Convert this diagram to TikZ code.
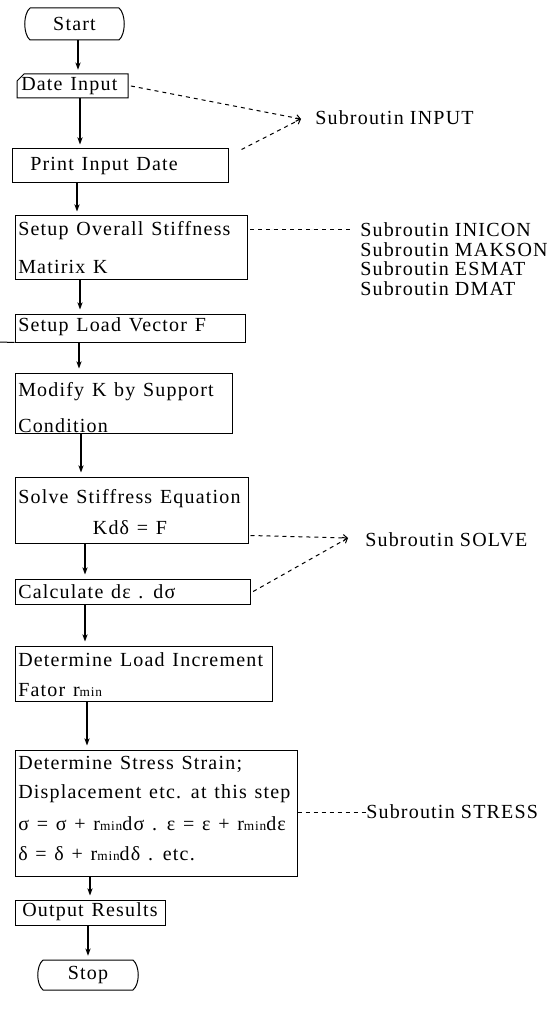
\documentclass[tikz,border=0pt]{standalone}
\usepackage{fontspec}
\setmainfont{Liberation Serif}[LetterSpace=6]
\newfontfamily\boxfont{Liberation Serif}[LetterSpace=6,WordSpace=1.25]
\usetikzlibrary{arrows.meta,fit}
\newcommand\rmn{r{\fontsize{10}{10}\selectfont min}}
\begin{document}
\begin{tikzpicture}[x=0.75pt,y=-0.75pt,
  box/.style={draw, line width=0.75pt, inner sep=0pt},
  hid/.style={inner sep=0pt},
  txt/.style={inner sep=0pt, anchor=west, font=\boxfont\fontsize{15}{18}\selectfont},
  ctxt/.style={inner sep=0pt, font=\boxfont\fontsize{15}{18}\selectfont},
  lab/.style={inner sep=0pt, anchor=west, font=\fontsize{15}{18}\selectfont},
  arr/.style={line width=0.8pt, -{Stealth[length=5.5pt,width=4pt]}, shorten >=3pt},
  dsh/.style={line width=0.75pt, dash pattern=on 3pt off 3pt},
  barb/.style={-{Straight Barb[length=3pt,width=5pt]}}]
\useasboundingbox (0,0) rectangle (558,1012);

% columns for the flow arrows
\coordinate (x1) at (78,0);
\coordinate (x2) at (80,0);
\coordinate (x3) at (77,0);
\coordinate (x4) at (80,0);
\coordinate (x5) at (79,0);
\coordinate (x6) at (81,0);
\coordinate (x7) at (85,0);
\coordinate (x8) at (85,0);
\coordinate (x9) at (87,0);
\coordinate (x10) at (90,0);
\coordinate (x11) at (88,0);

% Start terminal
\node[hid, fit={(25,8) (124,40)}] (start) {};
\draw[line width=0.75pt] (30,8) -- (119,8) .. controls (126,14) and (126,34) .. (119,40)
  -- (30,40) .. controls (23,34) and (23,14) .. (30,8);
\node[ctxt] (tstart) at (74.5,24) {Start};

% Date Input (card shape)
\node[hid, fit={(17,74) (128,98)}] (b1) {};
\draw[line width=0.75pt] (24,74) -- (128,74) -- (128,98) -- (17,98) -- (17,81) -- cycle;
\node[txt] (t1) at (21,86) {Date Input};

\node[box, fit={(12,149) (228,183)}] (b2) {};
\node[txt] (t2) at (30,166) {Print Input Date};

\node[box, fit={(15,216) (247,280)}] (b3) {};
\node[txt] (t3a) at (18,231) {Setup Overall Stiffness};
\node[txt] (t3b) at (18,267) {Matirix K};

\node[box, fit={(15,314) (245,342)}] (b4) {};
\node[txt] (t4) at (18,327) {Setup Load Vector F};
\coordinate (edge4) at (0,342);
\draw[line width=0.75pt] (edge4) -- (b4.south west);

\node[box, fit={(15,373) (232,433)}] (b5) {};
\node[txt] (t5a) at (18,392) {Modify K by Support};
\node[txt] (t5b) at (18,426) {Condition};

\node[box, fit={(15,477) (248,543)}] (b6) {};
\node[txt] (t6a) at (18,499) {Solve Stiffress Equation};
\node[ctxt] (t6b) at (130,528) {Kdδ = F};

\node[box, fit={(15,579) (250,604)}] (b7) {};
\node[txt] (t7) at (18,592) {Calculate dε . dσ};

\node[box, fit={(15,646) (272,701)}] (b8) {};
\node[txt] (t8a) at (18,660) {Determine Load Increment};
\node[txt] (t8b) at (18,690) {Fator \rmn};

\node[box, fit={(15,750) (297,876)}] (b9) {};
\node[txt] (t9a) at (18,764) {Determine Stress Strain;};
\node[txt] (t9b) at (18,794) {Displacement etc. at this step};
\node[txt] (t9c) at (18,824) {σ = σ + \rmn dσ . ε = ε + \rmn dε};
\node[txt] (t9d) at (18,854) {δ = δ + \rmn dδ . etc.};

\node[box, fit={(15,900) (165,925)}] (b10) {};
\node[txt] (t10) at (22,912) {Output Results};

% Stop terminal
\node[hid, fit={(38,960) (138,990)}] (stop) {};
\draw[line width=0.75pt] (43,960) -- (133,960) .. controls (140,966) and (140,984) .. (133,990)
  -- (43,990) .. controls (36,984) and (36,966) .. (43,960);
\node[ctxt] (tstop) at (88,975) {Stop};

% flow arrows
\draw[arr] (x1 |- start.south) -- (x1 |- b1.north);
\draw[arr] (x2 |- b1.south) -- (x2 |- b2.north);
\draw[arr] (x3 |- b2.south) -- (x3 |- b3.north);
\draw[arr] (x4 |- b3.south) -- (x4 |- b4.north);
\draw[arr] (x5 |- b4.south) -- (x5 |- b5.north);
\draw[arr] (x6 |- b5.south) -- (x6 |- b6.north);
\draw[arr] (x7 |- b6.south) -- (x7 |- b7.north);
\draw[arr] (x8 |- b7.south) -- (x8 |- b8.north);
\draw[arr] (x9 |- b8.south) -- (x9 |- b9.north);
\draw[arr] (x10 |- b9.south) -- (x10 |- b10.north);
\draw[arr] (x11 |- b10.south) -- (x11 |- stop.north);

% subroutine labels
\node[lab] (sinput) at (315,118) {Subroutin INPUT};
\node[lab] (s1) at (360,230) {Subroutin INICON};
\node[lab] (s2) at (360,250) {Subroutin MAKSON};
\node[lab] (s3) at (360,269) {Subroutin ESMAT};
\node[lab] (s4) at (360,289) {Subroutin DMAT};
\node[lab] (ssolve) at (365,540) {Subroutin SOLVE};
\node[lab] (sstress) at (366,812) {Subroutin STRESS};

% dashed links
\coordinate (inp) at (301,119);
\draw[dsh,barb] ([xshift=2pt]b1.east) -- (inp);
\draw[dsh,barb] ([shift={(13,1)}]b2.north east) -- (inp);
\draw[dsh] ([xshift=2pt]b3.north east |- s1) -- ([xshift=-6pt]s1.west);
\coordinate (sv) at (348,538);
\draw[dsh,barb] ([shift={(2,-8)}]b6.south east) -- (sv);
\draw[dsh,barb] ([xshift=2pt]b7.east) -- (sv);
\draw[dsh] (b9.east |- sstress) -- (sstress.west);
\end{tikzpicture}
\end{document}
